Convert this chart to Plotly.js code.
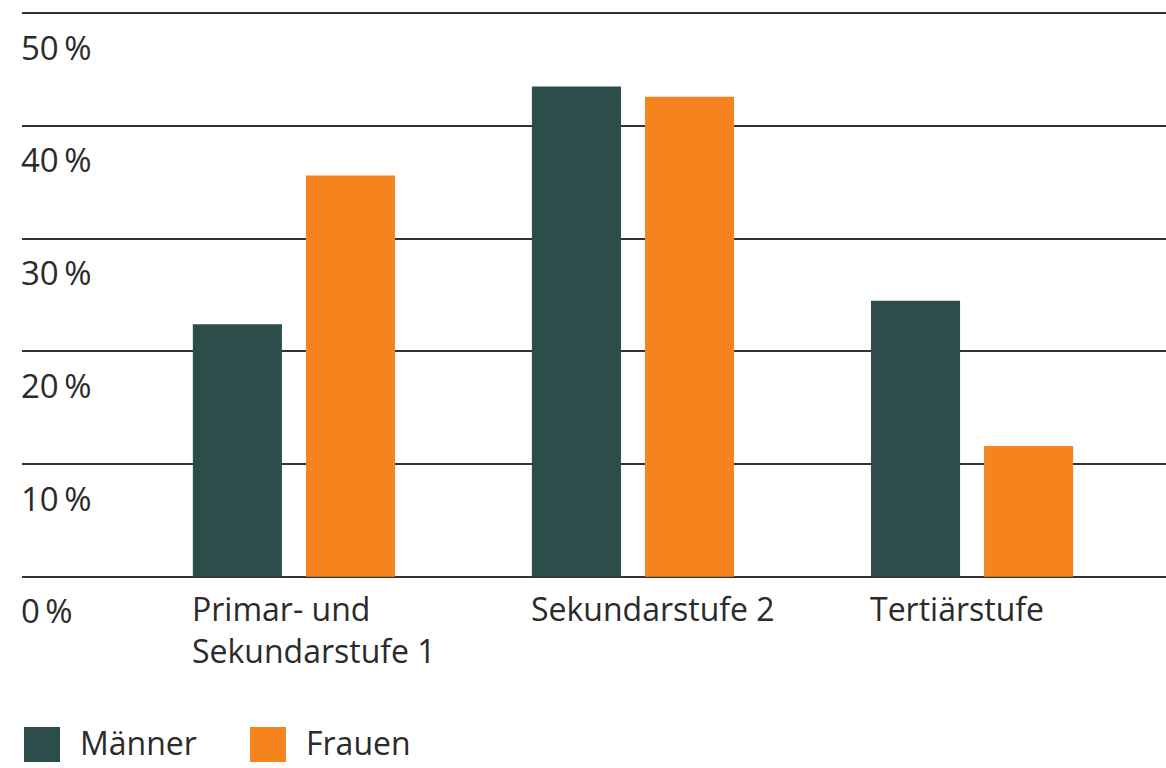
<!DOCTYPE html>
<html>
<head>
<meta charset="utf-8">
<script src="https://cdn.plot.ly/plotly-3.0.1.min.js"></script>
<style>
  html, body { margin: 0; padding: 0; background: #fff; }
  #chart { width: 1166px; height: 768px; }
</style>
</head>
<body>
<div id="chart"></div>
<script>
// Kategorien und Werte (Anteil in %)
const categories = ["Primar- und<br>Sekundarstufe 1", "Sekundarstufe 2", "Tertiärstufe"];
const seriesNames = ["Männer", "Frauen"];
const maenner = [22.4, 43.5, 24.5];
const frauen = [35.6, 42.6, 11.6];
const yTicks = [0, 10, 20, 30, 40, 50];
const yTickText = ["0\u2009%", "10\u2009%", "20\u2009%", "30\u2009%", "40\u2009%", "50\u2009%"];

const colors = ["#2d4d4b", "#f5841f"];
const textColor = "#2b2b2b";
const fontFamily = "'Open Sans', 'Noto Sans', sans-serif";
const fontSize = 32;

const xIdx = categories.map((c, i) => i);

const data = [
    {
        type: "bar",
        x: xIdx,
        y: maenner,
        name: seriesNames[0],
        marker: { color: colors[0] },
        hoverinfo: "y+name"
    },
    {
        type: "bar",
        x: xIdx,
        y: frauen,
        name: seriesNames[1],
        marker: { color: colors[1] },
        hoverinfo: "y+name"
    }
];

// Kategorienbeschriftung linksbündig an der linken Balkenkante
const annotations = categories.map((c, i) => ({
    xref: "x", yref: "y",
    x: i, y: 0,
    xshift: -104, yshift: -8,
    xanchor: "left", yanchor: "top",
    align: "left",
    text: c,
    showarrow: false,
    font: { family: fontFamily, size: fontSize, color: textColor }
}));

// y-Beschriftung unterhalb der Gitterlinien (0 % liegt ausserhalb der Plotfläche)
yTicks.forEach((v, i) => {
    annotations.push({
        xref: "paper", yref: "y",
        x: 0, y: v,
        xshift: -3, yshift: -34,
        xanchor: "left", yanchor: "middle",
        text: yTickText[i],
        showarrow: false,
        font: { family: fontFamily, size: 33, color: textColor }
    });
});

// eigene Legende mit grossen Quadraten
const shapes = [];
const legendX = [2, 228];
seriesNames.forEach((n, i) => {
    shapes.push({
        type: "rect",
        xref: "paper", yref: "paper",
        xsizemode: "pixel", ysizemode: "pixel",
        xanchor: 0, yanchor: 0,
        x0: legendX[i], x1: legendX[i] + 36,
        y0: -148, y1: -183,
        fillcolor: colors[i],
        line: { width: 0 }
    });
    annotations.push({
        xref: "paper", yref: "paper",
        x: 0, y: 0,
        xshift: legendX[i] + 54, yshift: -140,
        xanchor: "left", yanchor: "top",
        text: n,
        showarrow: false,
        font: { family: fontFamily, size: fontSize, color: textColor }
    });
});

const layout = {
    width: 1166,
    height: 768,
    margin: { l: 22, r: 0, t: 10.7, b: 188.7 },
    paper_bgcolor: "#ffffff",
    plot_bgcolor: "#ffffff",
    showlegend: false,
    barmode: "group",
    bargap: 0.333,
    bargroupgap: 0.212,
    font: { family: fontFamily, size: fontSize, color: textColor },
    xaxis: {
        range: [-0.802, 2.572],
        showticklabels: false,
        showgrid: false,
        zeroline: false,
        showline: false,
        fixedrange: true
    },
    yaxis: {
        range: [-0.2, 50.2],
        tickmode: "array",
        tickvals: yTicks,
        showticklabels: false,
        ticks: "",
        showgrid: true,
        gridcolor: "#333333",
        gridwidth: 2,
        zeroline: false,
        showline: false,
        fixedrange: true
    },
    annotations: annotations,
    shapes: shapes
};

Plotly.newPlot("chart", data, layout, { displayModeBar: false, staticPlot: true });
</script>
</body>
</html>
